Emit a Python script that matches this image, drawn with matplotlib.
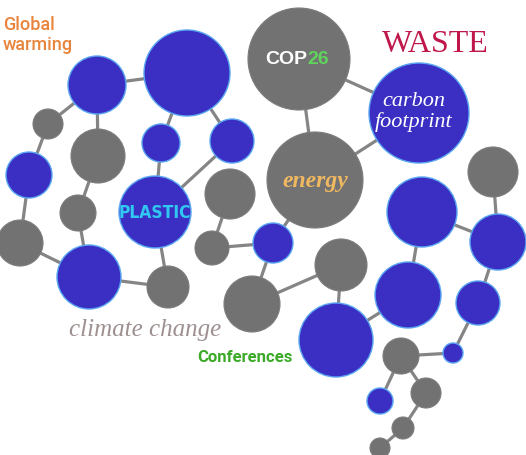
import matplotlib
matplotlib.use("Agg")
import matplotlib.pyplot as plt
from matplotlib.patches import Circle

# Nodos (coordenadas en pixeles de la imagen, y hacia abajo)
node_x = [97, 187, 161, 232, 29, 155, 89, 419, 422, 498, 273, 408, 478, 336, 453, 380,
          299, 315, 48, 98, 78, 230, 20, 212, 168, 252, 341, 493, 401, 426, 403, 380]
node_y = [85, 73, 143, 141, 175, 212, 277, 113, 212, 242, 243, 295, 303, 340, 353, 401,
          59, 180, 124, 156, 213, 194, 243, 248, 287, 304, 265, 172, 356, 393, 428, 448]
node_r = [29, 43, 19, 22, 23, 36, 32, 50, 35, 28, 20, 33, 22, 37, 10, 13,
          51, 48, 15, 27, 18, 25, 23, 17, 21, 28, 26, 25, 18, 15, 11, 10]
node_kind = ["b"] * 16 + ["g"] * 16

# Conexiones entre nodos
edges = [(0, 1), (0, 18), (0, 19), (18, 4), (4, 22), (19, 20), (20, 6), (22, 6),
         (6, 24), (5, 24), (1, 2), (1, 3), (2, 5), (3, 5), (21, 23), (23, 10),
         (16, 7), (16, 17), (17, 7), (17, 10), (10, 25), (25, 26), (26, 13),
         (13, 11), (11, 8), (8, 9), (9, 12), (12, 14), (14, 28), (28, 15),
         (28, 29), (29, 30), (30, 31), (27, 9)]

fig = plt.figure(figsize=(5.26, 4.55), dpi=100)
ax = fig.add_axes([0, 0, 1, 1])
ax.set_xlim(0, 526)
ax.set_ylim(455, 0)
ax.set_aspect("equal")
ax.axis("off")

for a, b in edges:
    ax.plot([node_x[a], node_x[b]], [node_y[a], node_y[b]], color="#858585",
            lw=2.3, zorder=1, solid_capstyle="round")

for x, y, r, k in zip(node_x, node_y, node_r, node_kind):
    if k == "b":
        c = Circle((x, y), r, facecolor="#3a2fc2", edgecolor="#5aa6f2", lw=1.0, zorder=2)
    else:
        c = Circle((x, y), r, facecolor="#727272", edgecolor="#7c7c7c", lw=0.8, zorder=2)
    ax.add_patch(c)

# Textos
ax.text(3, 35, "Global\nwarming", color="#e8843c", fontsize=13, fontweight="medium",
        family=["Roboto", "DejaVu Sans"], ha="left", va="center", linespacing=1.2, zorder=3)
ax.text(307, 60, "COP", color="white", fontsize=14, fontweight="bold",
        family=["Liberation Sans", "DejaVu Sans"], ha="right", va="center", zorder=3)
ax.text(307, 60, "26", color="#5fd35c", fontsize=14, fontweight="bold",
        family=["Liberation Sans", "DejaVu Sans"], ha="left", va="center", zorder=3)
ax.text(435, 45, "WASTE", color="#c0174a", fontsize=23,
        family=["Liberation Serif", "DejaVu Serif"], ha="center", va="center", zorder=3)
ax.text(414, 112, "carbon\nfootprint", color="white", fontsize=16, style="italic",
        family=["Liberation Serif", "DejaVu Serif"], ha="center", va="center",
        linespacing=1.05, zorder=3)
ax.text(315, 181, "energy", color="#f0b860", fontsize=17, style="italic", fontweight="bold",
        family=["Liberation Serif", "DejaVu Serif"], ha="center", va="center", zorder=3)
ax.text(155, 213, "PLASTIC", color="#30c8f0", fontsize=12.5, fontweight="bold",
        fontstretch="condensed", family=["DejaVu Sans"], ha="center", va="center", zorder=3)
ax.text(145, 330, "climate change", color="#9e9090", fontsize=18, style="italic",
        family=["Liberation Serif", "DejaVu Serif"], ha="center", va="center", zorder=3)
ax.text(245, 358, "Conferences", color="#3caa28", fontsize=12, fontweight="bold",
        family=["Roboto", "DejaVu Sans"], ha="center", va="center", zorder=3)

fig.savefig("out.png", dpi=100)
